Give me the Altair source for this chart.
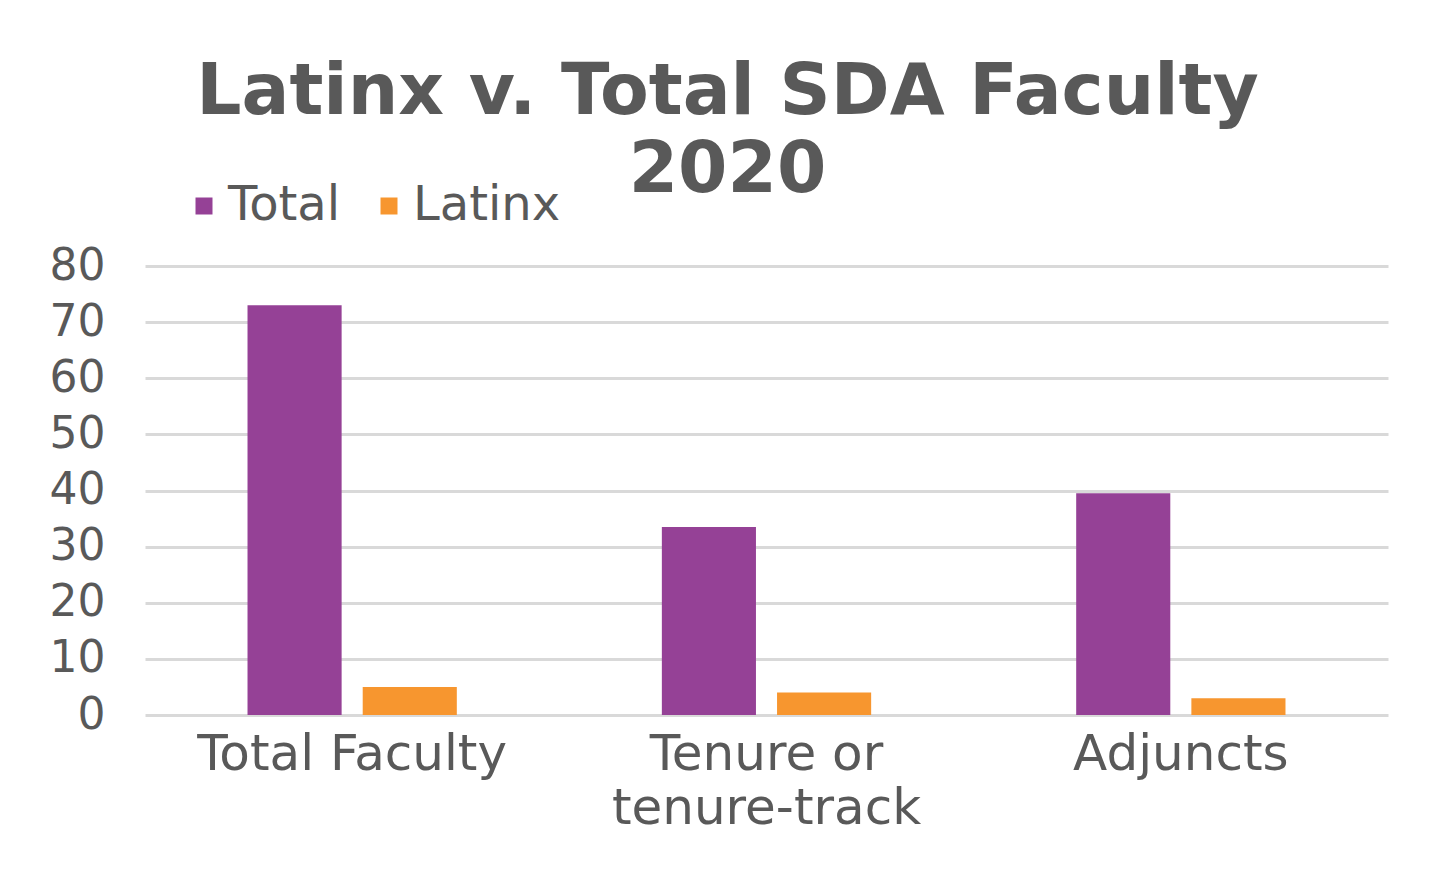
import altair as alt
import pandas as pd

categories = ["Total Faculty", "Tenure or tenure-track", "Adjuncts"]
series = ["Total", "Latinx"]
total_values = [73, 33.5, 39.5]
latinx_values = [5, 4, 3]
y_ticks = [0, 10, 20, 30, 40, 50, 60, 70, 80]
colors = ["#954196", "#F7962F"]

rows = []
for c, t, l in zip(categories, total_values, latinx_values):
    rows.append({"category": c, "series": "Total", "value": t})
    rows.append({"category": c, "series": "Latinx", "value": l})
df = pd.DataFrame(rows)

FONT = "DejaVu Sans"
TXT = "#595959"

chart = alt.Chart(df).mark_bar().encode(
    x=alt.X("category:N", sort=categories, title=None,
            scale=alt.Scale(paddingInner=0, paddingOuter=0),
            axis=alt.Axis(labelAngle=0, domain=False, ticks=False, labelPadding=14,
                          labelFontSize=50, labelColor=TXT, labelFont=FONT, labelLimit=600,
                          labelLineHeight=54, labelBaseline="top",
                          labelExpr="datum.label == 'Tenure or tenure-track' ? ['Tenure or', 'tenure-track'] : datum.label")),
    xOffset=alt.XOffset("series:N", sort=series,
                        scale=alt.Scale(paddingInner=0.183, paddingOuter=0.89)),
    y=alt.Y("value:Q", title=None,
            scale=alt.Scale(domain=[0, 80], nice=False),
            axis=alt.Axis(values=y_ticks, domain=False, ticks=False, labelPadding=40,
                          labelFontSize=44, labelColor=TXT, labelFont=FONT,
                          grid=True, gridColor="#D9D9D9", gridWidth=3)),
    color=alt.Color("series:N", sort=series,
                    scale=alt.Scale(domain=series, range=colors),
                    legend=alt.Legend(title=None, orient="none", legendX=35, legendY=-84,
                                      direction="horizontal", columns=2, symbolType="square",
                                      symbolSize=289, symbolStrokeWidth=0, labelFontSize=48,
                                      labelColor=TXT, labelFont=FONT, labelOffset=0,
                                      columnPadding=24, padding=0)),
).properties(
    width=1243,
    height=449,
    autosize=alt.AutoSizeParams(type="none"),
    padding={"left": 137, "top": 258, "right": 50, "bottom": 150},
    title=alt.TitleParams(
        text=["Latinx v. Total SDA Faculty", "2020"],
        fontSize=71, fontWeight="bold", font=FONT, color=TXT,
        anchor="middle", frame="group", dx=-39, lineHeight=78, offset=55, dy=80,
    ),
).configure_view(stroke=None)

chart.save("out.html", embed_options={"renderer": "svg", "actions": False})
